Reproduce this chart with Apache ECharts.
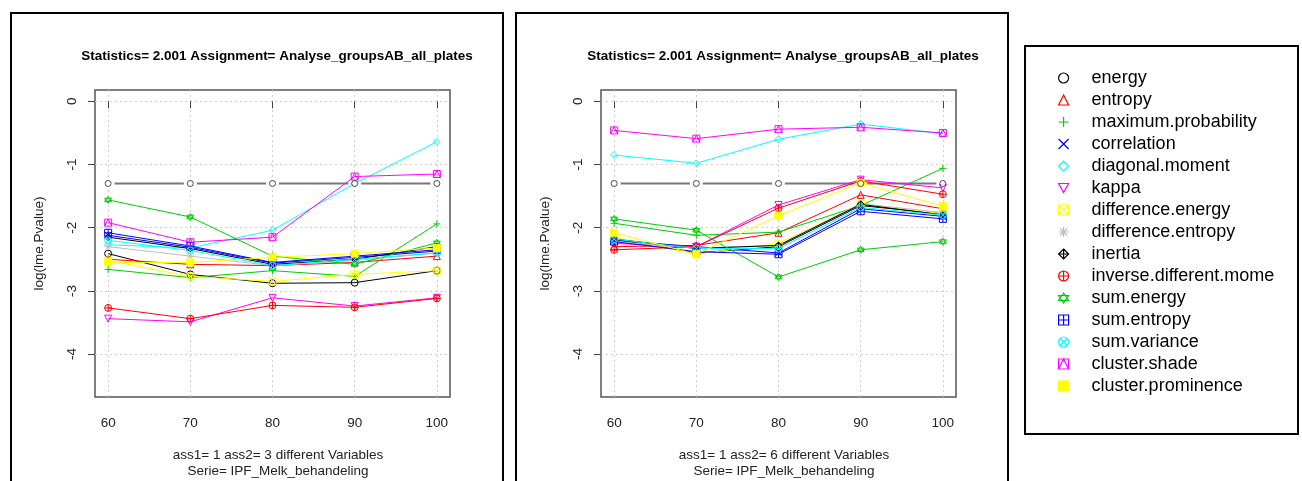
<!DOCTYPE html>
<html>
<head>
<meta charset="utf-8">
<script src="https://cdn.jsdelivr.net/npm/echarts@6/dist/echarts.min.js"></script>
<style>
html, body { margin: 0; padding: 0; background: #fff; }
#chart { width: 1302px; height: 481px; }
</style>
</head>
<body>
<div id="chart"></div>
<script>
// x positions (treatment levels) and y ticks
var xTicks = [60, 70, 80, 90, 100];
var yTicks = [-4, -3, -2, -1, 0];

var varNames = ['energy', 'entropy', 'maximum.probability', 'correlation', 'diagonal.moment',
    'kappa', 'difference.energy', 'difference.entropy', 'inertia', 'inverse.different.mome',
    'sum.energy', 'sum.entropy', 'sum.variance', 'cluster.shade', 'cluster.prominence'];

// log10(0.05) reference line
var cutoff = [-1.30, -1.30, -1.30, -1.30, -1.30];

// left panel: ass2 = 3 different Variables
var a_energy = [-2.41, -2.74, -2.88, -2.87, -2.68];
var a_entropy = [-2.50, -2.58, -2.60, -2.55, -2.45];
var a_maxprob = [-2.66, -2.79, -2.68, -2.77, -1.94];
var a_correlation = [-2.12, -2.31, -2.56, -2.47, -2.37];
var a_diagmoment = [-2.27, -2.32, -2.04, -1.30, -0.64];
var a_kappa = [-3.44, -3.49, -3.11, -3.24, -3.11];
var a_diffenergy = [-2.52, -2.77, -2.85, -2.74, -2.68];
var a_diffentropy = [-2.30, -2.45, -2.60, -2.52, -2.40];
var a_inertia = [-2.15, -2.33, -2.58, -2.50, -2.30];
var a_invdiffmome = [-3.27, -3.44, -3.23, -3.26, -3.12];
var a_sumenergy = [-1.56, -1.83, -2.45, -2.58, -2.24];
var a_sumentropy = [-2.08, -2.29, -2.55, -2.45, -2.35];
var a_sumvariance = [-2.20, -2.36, -2.60, -2.50, -2.40];
var a_clustershade = [-1.92, -2.23, -2.15, -1.19, -1.15];
var a_clusterprom = [-2.55, -2.55, -2.47, -2.41, -2.32];

// right panel: ass2 = 6 different Variables
var b_energy = [-2.18, -2.40, -2.30, -1.65, -1.78];
var b_entropy = [-2.30, -2.28, -2.08, -1.48, -1.70];
var b_maxprob = [-1.93, -2.12, -2.07, -1.65, -1.06];
var b_correlation = [-2.20, -2.30, -2.40, -1.70, -1.82];
var b_diagmoment = [-0.85, -0.98, -0.60, -0.36, -0.51];
var b_kappa = [-2.25, -2.30, -1.64, -1.24, -1.37];
var b_diffenergy = [-2.15, -2.42, -2.25, -1.62, -1.78];
var b_diffentropy = [-2.22, -2.32, -2.28, -1.62, -1.76];
var b_inertia = [-2.18, -2.33, -2.28, -1.63, -1.80];
var b_invdiffmome = [-2.35, -2.30, -1.69, -1.26, -1.47];
var b_sumenergy = [-1.86, -2.04, -2.78, -2.35, -2.22];
var b_sumentropy = [-2.22, -2.38, -2.42, -1.74, -1.86];
var b_sumvariance = [-2.18, -2.33, -2.33, -1.68, -1.80];
var b_clustershade = [-0.46, -0.59, -0.44, -0.41, -0.50];
var b_clusterprom = [-2.08, -2.42, -1.81, -1.29, -1.66];

var panelA = [a_energy, a_entropy, a_maxprob, a_correlation, a_diagmoment, a_kappa, a_diffenergy,
    a_diffentropy, a_inertia, a_invdiffmome, a_sumenergy, a_sumentropy, a_sumvariance, a_clustershade, a_clusterprom];
var panelB = [b_energy, b_entropy, b_maxprob, b_correlation, b_diagmoment, b_kappa, b_diffenergy,
    b_diffentropy, b_inertia, b_invdiffmome, b_sumenergy, b_sumentropy, b_sumvariance, b_clustershade, b_clusterprom];

var titleText = 'Statistics= 2.001 Assignment= Analyse_groupsAB_all_plates';
var subTexts = ['ass1= 1 ass2= 3 different Variables\nSerie= IPF_Melk_behandeling',
    'ass1= 1 ass2= 6 different Variables\nSerie= IPF_Melk_behandeling'];

// R palette, recycled after 8
var colours = ['#000000', '#FF0000', '#00CD00', '#0000FF', '#00FFFF', '#FF00FF', '#FFFF00', '#BEBEBE',
    '#000000', '#FF0000', '#00CD00', '#0000FF', '#00FFFF', '#FF00FF', '#FFFF00'];

// pch 1..15
var symbols = [
    'circle',
    'triangle',
    'path://M10,0L10,20M0,10L20,10',
    'path://M0,0L20,20M20,0L0,20',
    'diamond',
    'path://M0,1L20,1L10,19Z',
    'path://M0,0L20,0L20,20L0,20ZM0,0L20,20M20,0L0,20',
    'path://M10,0L10,20M0,10L20,10M3,3L17,17M17,3L3,17',
    'path://M10,0L20,10L10,20L0,10ZM10,0L10,20M0,10L20,10',
    'path://M0,10A10,10,0,1,0,20,10A10,10,0,1,0,0,10ZM10,0L10,20M0,10L20,10',
    'path://M10,0L20,15L0,15ZM0,5L20,5L10,20Z',
    'path://M0,0L20,0L20,20L0,20ZM10,0L10,20M0,10L20,10',
    'path://M0,10A10,10,0,1,0,20,10A10,10,0,1,0,0,10ZM3,3L17,17M17,3L3,17',
    'path://M0,0L20,0L20,20L0,20ZM0,20L10,0L20,20',
    'rect'
];

var font = 'Liberation Sans, Arial, sans-serif';
var fs = 13.5;
var grids = [{ left: 95, top: 90 }, { left: 601, top: 90 }];

function pairs(values) {
    return values.map(function (v, i) {
        return [xTicks[i], v];
    });
}

var series = [];
var xAxes = [];
var yAxes = [];
var titles = [];

[panelA, panelB].forEach(function (panel, p) {
    xAxes.push({
        type: 'value', gridIndex: p, min: 58.4, max: 101.6,
        axisLine: { show: false },
        axisTick: { show: true, length: 7, customValues: xTicks, lineStyle: { color: '#444' } },
        axisLabel: { customValues: xTicks, margin: 19, fontSize: fs, color: '#222', fontFamily: font },
        splitLine: { show: true, lineStyle: { type: [2, 3], color: '#d0d0d0' } }
    });
    yAxes.push({
        type: 'value', gridIndex: p, min: -4.68, max: 0.18,
        name: 'log(lme.Pvalue)', nameLocation: 'middle', nameGap: 49,
        nameTextStyle: { fontSize: fs, color: '#222', fontFamily: font },
        axisLine: { show: false },
        axisTick: { show: true, length: 7, customValues: yTicks, lineStyle: { color: '#444' } },
        axisLabel: { customValues: yTicks, rotate: 90, margin: 16, fontSize: fs, color: '#222', fontFamily: font },
        splitLine: { show: true, lineStyle: { type: [2, 3], color: '#d0d0d0' } }
    });
    titles.push({
        text: titleText, left: grids[p].left + 177, top: 44, textAlign: 'center',
        textStyle: { fontSize: fs, fontWeight: 'bold', color: '#000', fontFamily: font }
    });
    titles.push({
        text: subTexts[p], left: grids[p].left + 178, top: 442, textAlign: 'center',
        textStyle: { fontSize: fs, fontWeight: 'normal', color: '#222', fontFamily: font, lineHeight: 16 }
    });

    // grey threshold line with gaps round the points
    series.push({
        type: 'line', name: 'cutoff' + p, xAxisIndex: p, yAxisIndex: p, data: pairs(cutoff),
        symbol: 'circle', symbolSize: 13, z: 1,
        lineStyle: { color: '#777', width: 2 },
        itemStyle: { color: '#fff', borderWidth: 0 }
    });
    panel.forEach(function (values, i) {
        series.push({
            type: 'line', name: varNames[i], xAxisIndex: p, yAxisIndex: p, data: pairs(values),
            symbol: symbols[i], symbolSize: 7, z: 2,
            lineStyle: { color: colours[i], width: 1 },
            itemStyle: {
                color: i === 14 ? colours[i] : 'rgba(0,0,0,0)',
                borderColor: colours[i], borderWidth: 1
            }
        });
    });
    series.push({
        type: 'scatter', name: 'cutoffpts' + p, xAxisIndex: p, yAxisIndex: p, data: pairs(cutoff),
        symbol: 'circle', symbolSize: 6, z: 3,
        itemStyle: { color: '#fff', borderColor: '#222', borderWidth: 1 }
    });
});

var myChart = echarts.init(document.getElementById('chart'));

var option = {
    animation: false,
    backgroundColor: '#fff',
    title: titles,
    grid: grids.map(function (g) {
        return {
            left: g.left, top: g.top, width: 355, height: 307,
            show: true, borderColor: '#555', borderWidth: 1.5, backgroundColor: 'transparent'
        };
    }),
    xAxis: xAxes,
    yAxis: yAxes,
    legend: {
        orient: 'vertical', left: 1053, top: 63,
        itemWidth: 10, itemHeight: 10, itemGap: 2,
        selectedMode: false,
        data: varNames.map(function (n, i) {
            return { name: n, icon: symbols[i] };
        }),
        itemStyle: { borderWidth: 1.2 },
        textStyle: { fontSize: 18, color: '#000', fontFamily: font, lineHeight: 20, padding: [0, 0, 0, 18] }
    },
    graphic: [
        { type: 'rect', shape: { x: 11, y: 13, width: 492, height: 500 }, style: { fill: 'none', stroke: '#000', lineWidth: 2 } },
        { type: 'rect', shape: { x: 516, y: 13, width: 492, height: 500 }, style: { fill: 'none', stroke: '#000', lineWidth: 2 } },
        { type: 'rect', shape: { x: 1025, y: 46, width: 273, height: 388 }, style: { fill: 'none', stroke: '#000', lineWidth: 2 } }
    ],
    series: series
};

myChart.setOption(option);
</script>
</body>
</html>
